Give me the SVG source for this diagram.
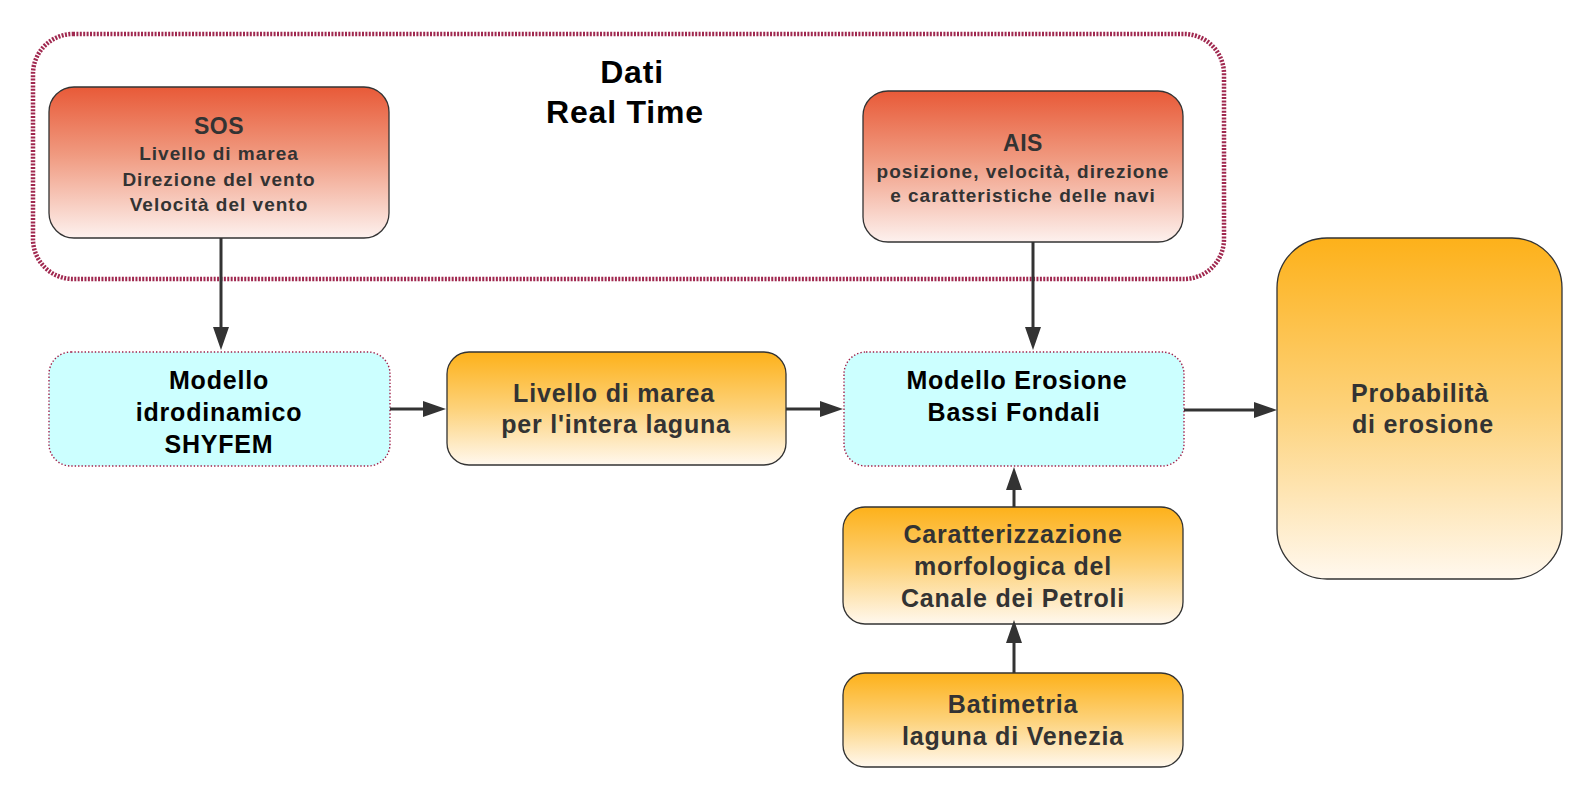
<svg xmlns="http://www.w3.org/2000/svg" width="1588" height="794" viewBox="0 0 1588 794">
<style>
text{font-family:"Liberation Sans",Arial,sans-serif;font-weight:bold;text-anchor:middle}
.t25{font-size:25px;letter-spacing:0.8px}
.t19{font-size:19px;letter-spacing:1px}
.t23{font-size:23px;letter-spacing:0.5px}
.gray{fill:#333333}
.blk{fill:#000000}
.solid{stroke:#333333;stroke-width:1.3}
.dotted{fill:#ccffff;stroke:#a0204a;stroke-width:1.4;stroke-dasharray:1.4 2}
.conn{stroke:#333333;stroke-width:3;fill:none;marker-end:url(#arr)}
</style>
<defs>
<linearGradient id="red" x1="0" y1="0" x2="0" y2="1">
<stop offset="0" stop-color="#e85a38"/>
<stop offset="0.45" stop-color="#f09a80"/>
<stop offset="1" stop-color="#fdf1ee"/>
</linearGradient>
<linearGradient id="orange" x1="0" y1="0" x2="0" y2="1">
<stop offset="0" stop-color="#fdb11a"/>
<stop offset="0.5" stop-color="#fdd27a"/>
<stop offset="1" stop-color="#fff8ee"/>
</linearGradient>
<marker id="arr" markerUnits="userSpaceOnUse" markerWidth="24" markerHeight="16" refX="13" refY="8" orient="auto">
<path d="M0,0 L23,8 L0,16 Z" fill="#333333"/>
</marker>
</defs>
<rect width="1588" height="794" fill="#ffffff"/>

<g id="realtime-group">
<rect x="33" y="34" width="1191" height="245" rx="40" ry="40" fill="none" stroke="#a0284f" stroke-width="4.5" stroke-dasharray="2 1.4"/>
<text x="632" y="83" style="font-size:32px;letter-spacing:0.8px" class="blk">Dati</text>
<text x="625" y="123" style="font-size:32px;letter-spacing:0.8px" class="blk">Real Time</text>
</g>

<g id="sos">
<rect x="49" y="87" width="340" height="151" rx="25" ry="25" fill="url(#red)" class="solid"/>
<text x="219" y="134" class="t23 gray">SOS</text>
<text x="219" y="160" class="t19 gray">Livello di marea</text>
<text x="219" y="186" class="t19 gray">Direzione del vento</text>
<text x="219" y="211" class="t19 gray">Velocità del vento</text>
</g>

<g id="ais">
<rect x="863" y="91" width="320" height="151" rx="25" ry="25" fill="url(#red)" class="solid"/>
<text x="1023" y="151" class="t23 gray">AIS</text>
<text x="1023" y="178" class="t19 gray">posizione, velocità, direzione</text>
<text x="1023" y="202" class="t19 gray">e caratteristiche delle navi</text>
</g>

<g id="modello-idro">
<rect x="49" y="352" width="341" height="114" rx="22" ry="22" class="dotted"/>
<text x="219" y="389" class="t25 blk">Modello</text>
<text x="219" y="421" class="t25 blk">idrodinamico</text>
<text x="219" y="453" class="t25 blk">SHYFEM</text>
</g>

<g id="livello">
<rect x="447" y="352" width="339" height="113" rx="22" ry="22" fill="url(#orange)" class="solid"/>
<text x="614" y="402" class="t25 gray">Livello di marea</text>
<text x="616" y="433" class="t25 gray">per l'intera laguna</text>
</g>

<g id="modello-erosione">
<rect x="844" y="352" width="340" height="114" rx="22" ry="22" class="dotted"/>
<text x="1017" y="389" class="t25 blk">Modello Erosione</text>
<text x="1014" y="421" class="t25 blk">Bassi Fondali</text>
</g>

<g id="probabilita">
<rect x="1277" y="238" width="285" height="341" rx="50" ry="50" fill="url(#orange)" class="solid"/>
<text x="1420" y="402" class="t25 gray">Probabilità</text>
<text x="1423" y="433" class="t25 gray">di erosione</text>
</g>

<g id="caratterizzazione">
<rect x="843" y="507" width="340" height="117" rx="22" ry="22" fill="url(#orange)" class="solid"/>
<text x="1013" y="543" class="t25 gray">Caratterizzazione</text>
<text x="1013" y="575" class="t25 gray">morfologica del</text>
<text x="1013" y="607" class="t25 gray">Canale dei Petroli</text>
</g>

<g id="batimetria">
<rect x="843" y="673" width="340" height="94" rx="22" ry="22" fill="url(#orange)" class="solid"/>
<text x="1013" y="713" class="t25 gray">Batimetria</text>
<text x="1013" y="745" class="t25 gray">laguna di Venezia</text>
</g>

<g id="connectors">
<line x1="221" y1="238" x2="221" y2="340" class="conn"/>
<line x1="1033" y1="242" x2="1033" y2="340" class="conn"/>
<line x1="390" y1="409" x2="436" y2="409" class="conn"/>
<line x1="786" y1="409" x2="833" y2="409" class="conn"/>
<line x1="1184" y1="410" x2="1267" y2="410" class="conn"/>
<line x1="1014" y1="507" x2="1014" y2="477" class="conn"/>
<line x1="1014" y1="673" x2="1014" y2="630" class="conn"/>
</g>
</svg>
